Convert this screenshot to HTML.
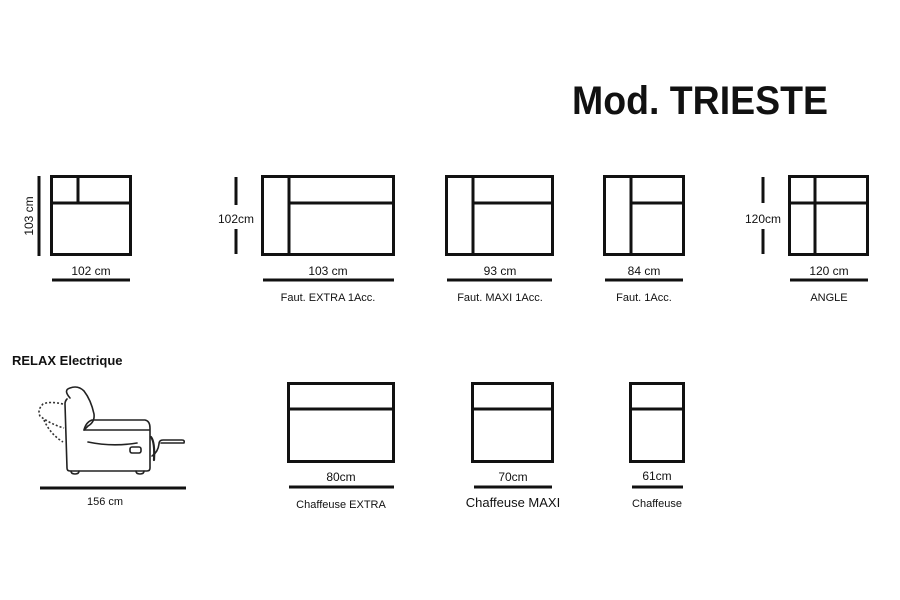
<!DOCTYPE html>
<html><head><meta charset="utf-8"><style>html,body{margin:0;padding:0;background:#fff}svg{display:block}</style></head>
<body>
<svg width="900" height="600" viewBox="0 0 900 600" xmlns="http://www.w3.org/2000/svg" font-family="Liberation Sans, Arial, sans-serif">
<rect width="900" height="600" fill="#fff"/>
<text x="572" y="114" font-size="40" font-weight="bold" textLength="256" lengthAdjust="spacingAndGlyphs" fill="#111">Mod. TRIESTE</text>
<g stroke="#111" stroke-width="3" fill="none">
<line x1="39" y1="176" x2="39" y2="256"/>
<rect x="51.5" y="176.5" width="79" height="78"/>
<line x1="78" y1="176" x2="78" y2="203"/>
<line x1="51" y1="203" x2="131" y2="203"/>
<line x1="52" y1="280" x2="130" y2="280"/>
<line x1="236" y1="177" x2="236" y2="205"/><line x1="236" y1="229" x2="236" y2="254"/>
<rect x="262.5" y="176.5" width="131" height="78"/>
<line x1="289" y1="176" x2="289" y2="255"/>
<line x1="289" y1="203" x2="394" y2="203"/>
<line x1="263" y1="280" x2="394" y2="280"/>
<rect x="446.5" y="176.5" width="106" height="78"/>
<line x1="473" y1="176" x2="473" y2="255"/>
<line x1="473" y1="203" x2="553" y2="203"/>
<line x1="447" y1="280" x2="552" y2="280"/>
<rect x="604.5" y="176.5" width="79" height="78"/>
<line x1="631" y1="176" x2="631" y2="255"/>
<line x1="631" y1="203" x2="684" y2="203"/>
<line x1="605" y1="280" x2="683" y2="280"/>
<line x1="763" y1="177" x2="763" y2="203"/><line x1="763" y1="229" x2="763" y2="254"/>
<rect x="789.5" y="176.5" width="78" height="78"/>
<line x1="815" y1="176" x2="815" y2="255"/>
<line x1="789" y1="203" x2="868" y2="203"/>
<line x1="790" y1="280" x2="868" y2="280"/>
<rect x="288.5" y="383.5" width="105" height="78"/>
<line x1="288" y1="409" x2="394" y2="409"/>
<line x1="289" y1="487" x2="394" y2="487"/>
<rect x="472.5" y="383.5" width="80" height="78"/>
<line x1="472" y1="409" x2="553" y2="409"/>
<line x1="474" y1="487" x2="552" y2="487"/>
<rect x="630.5" y="383.5" width="53" height="78"/>
<line x1="630" y1="409" x2="684" y2="409"/>
<line x1="632" y1="487" x2="683" y2="487"/>
<line x1="40" y1="488" x2="186" y2="488"/>
</g>
<g stroke="#222" stroke-width="1.6" fill="none" stroke-linejoin="round" stroke-linecap="round">
<path d="M70 398 Q63 390 70 388 Q78 385 84 391 Q91 400 94 414 Q95 422 88 426 L84 430"/>
<path d="M67 399 Q65 401 65 404 L67 468 Q67 471 70 471 L147 471 Q150 471 150 468 L150 428 Q150 421 145 420 L92 420 Q86 422 84 430 L150 430"/>
<path d="M88 442 Q112 447 137 443"/>
<rect x="130" y="447" width="11" height="6" rx="2"/>
<path d="M151 437 Q155 442 154 460" stroke-width="2.2"/>
<path d="M152 456 Q158 452 159 444 Q159 440 163 440 L182 440 Q185 440 184 443 L161 443"/>
<path d="M71 471 Q71 474 75 474 Q79 474 79 471"/>
<path d="M136 471 Q136 474 140 474 Q144 474 144 471"/>
</g>
<path d="M63 404 Q50 401 43 404 Q37 410 40 416 Q50 424 64 428 M44 420 Q50 434 63 442" stroke="#333" stroke-width="1.6" stroke-dasharray="2,2" fill="none"/>
<g fill="#111" font-size="12" text-anchor="middle">
<text x="91" y="275">102 cm</text>
<text transform="translate(33,216) rotate(-90)">103 cm</text>
<text x="236" y="223">102cm</text>
<text x="328" y="275">103 cm</text>
<text x="328" y="301" font-size="11">Faut. EXTRA 1Acc.</text>
<text x="500" y="275">93 cm</text>
<text x="500" y="301" font-size="11">Faut. MAXI 1Acc.</text>
<text x="644" y="275">84 cm</text>
<text x="644" y="301" font-size="11">Faut. 1Acc.</text>
<text x="763" y="223">120cm</text>
<text x="829" y="275">120 cm</text>
<text x="829" y="301" font-size="11">ANGLE</text>
<text x="341" y="481">80cm</text>
<text x="341" y="508" font-size="11">Chaffeuse EXTRA</text>
<text x="513" y="481">70cm</text>
<text x="513" y="507" font-size="13">Chaffeuse MAXI</text>
<text x="657" y="480">61cm</text>
<text x="657" y="507" font-size="11">Chaffeuse</text>
<text x="105" y="505" font-size="11">156 cm</text>
<text x="12" y="365" font-size="13" font-weight="bold" text-anchor="start">RELAX Electrique</text>
</g>
</svg>
</body></html>
